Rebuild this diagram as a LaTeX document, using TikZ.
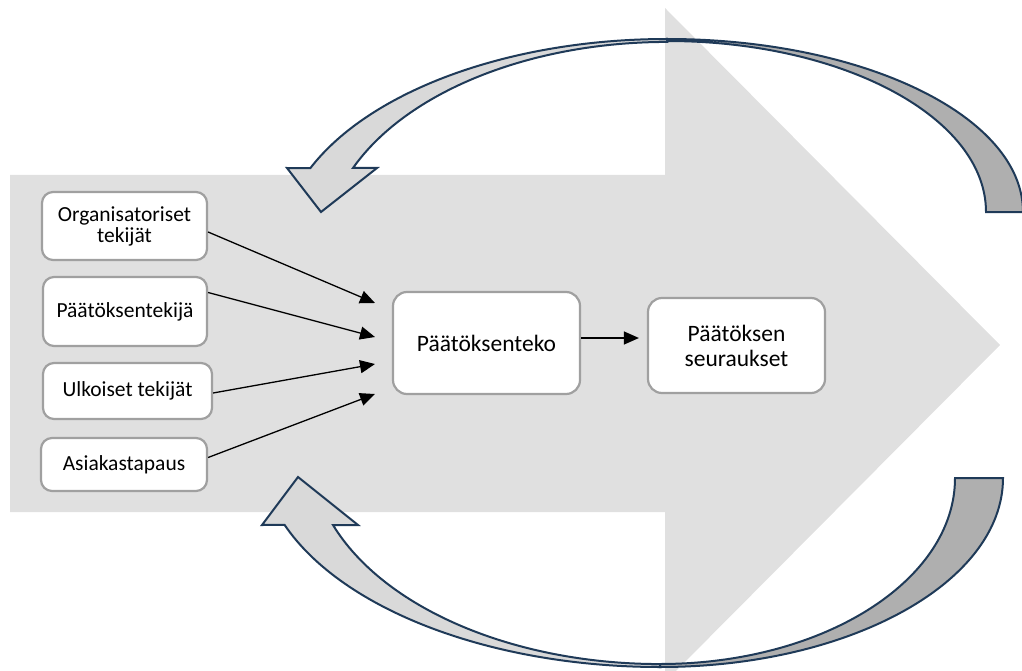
\documentclass[tikz,border=0pt]{standalone}
\usepackage{fontspec}
\setmainfont{Carlito}
\usetikzlibrary{arrows.meta}
\definecolor{bggray}{RGB}{224,224,224}
\definecolor{frontgray}{RGB}{217,217,217}
\definecolor{backgray}{RGB}{175,175,175}
\definecolor{edgeblue}{RGB}{31,58,88}
\definecolor{boxline}{RGB}{160,160,160}
\tikzset{bx/.style = {rectangle, rounded corners=11pt, draw=boxline, line width=2.2pt, fill=white, align=center, font=\fontsize{21.5}{21}\selectfont},
         mb/.style = {bx, rounded corners=14pt, font=\fontsize{23.5}{25}\selectfont},
         fr/.style = {fill=frontgray, draw=edgeblue, line width=2pt},
         bk/.style = {fill=backgray, draw=edgeblue, line width=2pt}}

\begin{document}
\begin{tikzpicture}[x=1pt, y=-1pt, line width=1.3pt, >={Triangle[length=15pt,width=13pt]}]
    \useasboundingbox (0,0) rectangle (1022,671);
    \fill[bggray] (10,175) -- (665,175) -- (665,8) -- (1000,345) -- (665,682) -- (665,512) -- (10,512) -- cycle;
    % loop arrows
    \draw[bk] (667,39) arc[start angle=90, end angle=0, x radius=356pt, y radius=173pt] -- (986,212)
              arc[start angle=0, end angle=90, x radius=319pt, y radius=171pt] -- cycle;
    \draw[fr] (667,39) arc[start angle=90, end angle=157.2, x radius=387pt, y radius=211pt]
              -- (287,168) -- (321,212) -- (377,168) -- (353,168)
              arc[start angle=156.8, end angle=90, x radius=342pt, y radius=208pt] -- cycle;
    \draw[bk] (660,667) arc[start angle=270, end angle=360, x radius=343pt, y radius=189pt] -- (955,478)
              arc[start angle=0, end angle=-90, x radius=295pt, y radius=186pt] -- cycle;
    \draw[fr] (660,667) arc[start angle=270, end angle=200.2, x radius=400pt, y radius=217pt]
              -- (262,525) -- (298,477) -- (358,525) -- (333,525)
              arc[start angle=200.5, end angle=270, x radius=349pt, y radius=214pt] -- cycle;
    % boxes
    \node[bx, minimum width=165pt, minimum height=68pt] (o) at (124.5,226) {Organisatoriset\\tekijät};
    \node[bx, minimum width=164pt, minimum height=69pt] (p) at (125,311.5) {Päätöksentekijä};
    \node[bx, minimum width=169pt, minimum height=56pt] (u) at (127.5,391) {Ulkoiset tekijät};
    \node[bx, minimum width=166pt, minimum height=53pt] (a) at (124,464.5) {Asiakastapaus};
    \node[mb, minimum width=187pt, minimum height=102pt] (pt) at (486.5,343) {Päätöksenteko};
    \node[mb, minimum width=177pt, minimum height=95pt] (ps) at (736.5,345.5) {Päätöksen\\seuraukset};
    \coordinate (i1) at (375,303); \coordinate (i2) at (375,337);
    \coordinate (i3) at (375,364); \coordinate (i4) at (375,394);
    \draw[->] ([yshift=-6pt]o.east) -- (i1);
    \draw[->] ([yshift=19pt]p.east) -- (i2);
    \draw[->] ([yshift=-2pt]u.east) -- (i3);
    \draw[->] ([yshift=7pt]a.east) -- (i4);
    \draw[->, shorten >=8pt] ([yshift=5pt]pt.east) -- ([yshift=7.5pt]ps.west);
\end{tikzpicture}
\end{document}
